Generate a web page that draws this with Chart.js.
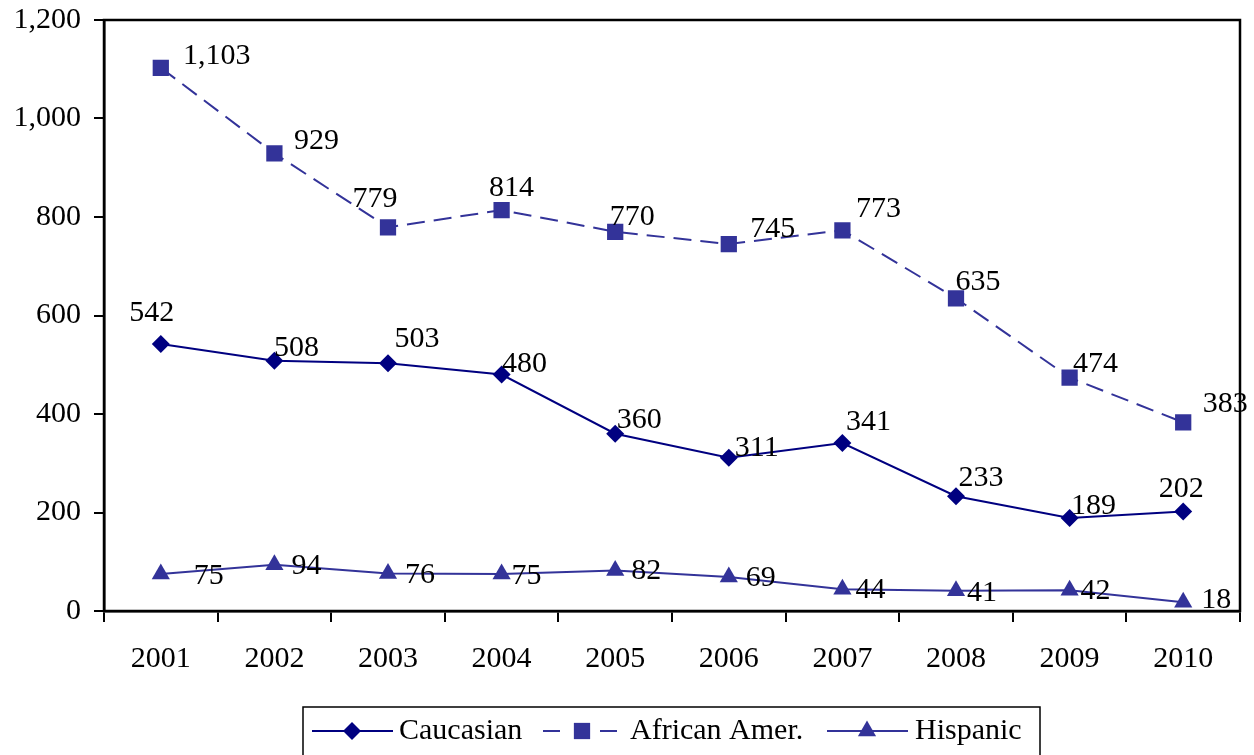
<!DOCTYPE html>
<html>
<head>
<meta charset="utf-8">
<script src="https://cdn.jsdelivr.net/npm/chart.js@4"></script>
<style>
  html, body { margin: 0; padding: 0; background: #fff; }
  #wrap { position: relative; width: 1254px; height: 755px; }
</style>
</head>
<body>
<div id="wrap"><canvas id="chart" width="1254" height="755"></canvas></div>
<script>
// ---- data ----
const years = ['2001', '2002', '2003', '2004', '2005', '2006', '2007', '2008', '2009', '2010'];
const caucasian = [542, 508, 503, 480, 360, 311, 341, 233, 189, 202];
const africanAmer = [1103, 929, 779, 814, 770, 745, 773, 635, 474, 383];
const hispanic = [75, 94, 76, 75, 82, 69, 44, 41, 42, 18];
const yTicks = [0, 200, 400, 600, 800, 1000, 1200];

// label placement (pixel offsets of label centre from the point)
const labelOffsets = [
    [[-9, -31], [22, -13], [29, -24], [23, -10], [24, -14], [28, -10], [26, -21], [25, -18], [24, -12], [-2, -22]],
    [[56, -12], [42, -12], [-13, -28], [10, -22], [17, -15], [44, -15], [36, -21], [22, -16], [26, -13], [42, -18]],
    [[48, 2], [32, 1], [32, 2], [25, 2], [31, 1], [32, 1], [28, 1], [26, 2], [26, 1], [33, -2]]
];

const FONT = '"Liberation Serif", "Times New Roman", serif';
const fmt = v => v.toLocaleString('en-US');

// data labels
const labelPlugin = {
    id: 'labels',
    afterDatasetsDraw(chart) {
        const ctx = chart.ctx;
        ctx.save();
        ctx.font = `30px ${FONT}`;
        ctx.fillStyle = '#000';
        ctx.textAlign = 'center';
        ctx.textBaseline = 'middle';
        chart.data.datasets.forEach((ds, di) => {
            chart.getDatasetMeta(di).data.forEach((pt, i) => {
                const [dx, dy] = labelOffsets[di][i];
                ctx.fillText(fmt(ds.data[i]), pt.x + dx, pt.y + dy);
            });
        });
        ctx.restore();
    }
};

// frame around plot + legend box
const framePlugin = {
    id: 'frame',
    afterDraw(chart) {
        const ctx = chart.ctx;
        const a = chart.chartArea;
        ctx.save();
        ctx.strokeStyle = '#000';
        ctx.lineWidth = 2.5;
        ctx.strokeRect(a.left, a.top, a.right - a.left, a.bottom - a.top);

        // legend
        ctx.lineWidth = 1.5;
        ctx.strokeRect(303, 707, 737, 70);
        const items = [
            { ds: chart.data.datasets[0], x0: 312, x1: 393, mx: 352, tx: 399 },
            { ds: chart.data.datasets[1], x0: 543, x1: 617, mx: 582, tx: 630 },
            { ds: chart.data.datasets[2], x0: 827, x1: 908, mx: 867, tx: 915 }
        ];
        const ly = 731;
        ctx.font = `30px ${FONT}`;
        ctx.textBaseline = 'middle';
        ctx.textAlign = 'left';
        items.forEach(it => {
            const ds = it.ds;
            ctx.strokeStyle = ds.borderColor;
            ctx.lineWidth = 2;
            ctx.beginPath();
            if (ds.borderDash) {
                ctx.moveTo(it.x0, ly); ctx.lineTo(it.x0 + 17, ly);
                ctx.moveTo(it.x1 - 17, ly); ctx.lineTo(it.x1, ly);
            } else {
                ctx.moveTo(it.x0, ly); ctx.lineTo(it.x1, ly);
            }
            ctx.stroke();
            ctx.fillStyle = ds.pointBackgroundColor;
            Chart.helpers.drawPoint(ctx, {
                pointStyle: ds.pointStyle, radius: ds.pointRadius, borderWidth: 0
            }, it.mx, ly);
            ctx.fillStyle = '#000';
            ctx.fillText(ds.label, it.tx, ly);
        });
        ctx.restore();
    }
};

new Chart(document.getElementById('chart'), {
    type: 'line',
    data: {
        labels: years,
        datasets: [
            {
                label: 'Caucasian', data: caucasian,
                borderColor: '#000080', backgroundColor: '#000080',
                pointBackgroundColor: '#000080', pointBorderColor: '#000080',
                pointStyle: 'rectRot', pointRadius: 9, pointBorderWidth: 0, borderWidth: 2
            },
            {
                label: 'African Amer.', data: africanAmer,
                borderColor: '#333399', backgroundColor: '#333399',
                pointBackgroundColor: '#333399', pointBorderColor: '#333399',
                pointStyle: 'rect', pointRadius: 11.5, pointBorderWidth: 0, borderWidth: 2, borderDash: [18, 9]
            },
            {
                label: 'Hispanic', data: hispanic,
                borderColor: '#333399', backgroundColor: '#333399',
                pointBackgroundColor: '#333399', pointBorderColor: '#333399',
                pointStyle: 'triangle', pointRadius: 10.5, pointBorderWidth: 0, borderWidth: 2
            }
        ]
    },
    options: {
        responsive: false,
        animation: false,
        events: [],
        layout: { padding: { top: 20, right: 14, left: 0, bottom: 64 } },
        plugins: { legend: { display: false }, tooltip: { enabled: false } },
        scales: {
            x: {
                offset: true,
                afterFit: s => { s.height = 80; s.paddingLeft = 0; s.paddingRight = 0; },
                grid: { offset: true, drawOnChartArea: false, tickLength: 11, color: '#000', lineWidth: 2 },
                border: { color: '#000', width: 2.5 },
                ticks: { color: '#000', font: { family: FONT, size: 30 }, padding: 19, maxRotation: 0 }
            },
            y: {
                min: 0, max: 1200,
                afterFit: s => { s.width = 104; s.paddingTop = 0; s.paddingBottom = 0; },
                afterBuildTicks: s => { s.ticks = yTicks.map(v => ({ value: v })); },
                grid: { drawOnChartArea: false, tickLength: 10, color: '#000', lineWidth: 2 },
                border: { color: '#000', width: 2.5 },
                ticks: { color: '#000', font: { family: FONT, size: 30 }, padding: 13, callback: v => fmt(v) }
            }
        }
    },
    plugins: [labelPlugin, framePlugin]
});
</script>
</body>
</html>
